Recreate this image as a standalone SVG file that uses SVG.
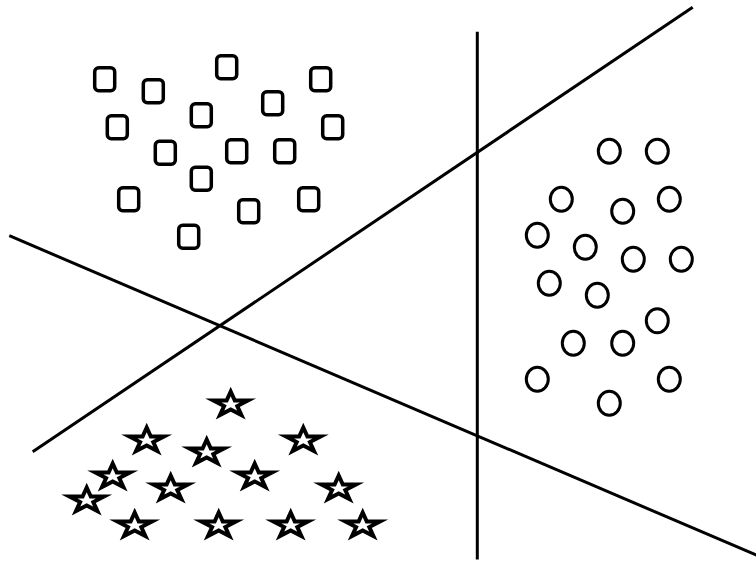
<svg xmlns="http://www.w3.org/2000/svg" width="756" height="561" viewBox="0 0 756 561">
<defs>
<style>
.sq{fill:#fff;stroke:#000;stroke-width:3.5}
.ci{fill:#fff;stroke:#000;stroke-width:3}
.st{fill:#fff;stroke:#000;stroke-width:4;stroke-miterlimit:10;stroke-linejoin:miter}
.ln{stroke:#000;stroke-width:3;fill:none}
</style>
<rect id="sqShape" class="sq" x="-10" y="-11.5" width="20" height="23" rx="4"/>
<ellipse id="ciShape" class="ci" cx="0" cy="0" rx="11" ry="12"/>
<path id="stShape" class="st" d="M0,-13 L4.1,-4.02 L17.3,-4.02 L6.6,1.54 L10.7,10.52 L0,4.97 L-10.7,10.52 L-6.6,1.54 L-17.3,-4.02 L-4.1,-4.02 Z"/>
</defs>
<rect width="756" height="561" fill="#fff"/>
<g id="connectors">
<line class="ln" x1="477.3" y1="31.7" x2="477.3" y2="559.5"/>
<line class="ln" x1="32.7" y1="451.7" x2="692.7" y2="7.3"/>
<line class="ln" x1="9.3" y1="235.7" x2="757" y2="555.4"/>
</g>
<g id="squares">
<g id="sq1"><use href="#sqShape" x="104.7" y="79.3"/></g>
<g id="sq2"><use href="#sqShape" x="153.3" y="91.3"/></g>
<g id="sq3"><use href="#sqShape" x="226.7" y="67.3"/></g>
<g id="sq4"><use href="#sqShape" x="320.7" y="79.3"/></g>
<g id="sq5"><use href="#sqShape" x="272.7" y="103.3"/></g>
<g id="sq6"><use href="#sqShape" x="201.3" y="115.3"/></g>
<g id="sq7"><use href="#sqShape" x="117.3" y="127.3"/></g>
<g id="sq8"><use href="#sqShape" x="332.7" y="127.3"/></g>
<g id="sq9"><use href="#sqShape" x="165.3" y="152.7"/></g>
<g id="sq10"><use href="#sqShape" x="236.7" y="151.3"/></g>
<g id="sq11"><use href="#sqShape" x="284.7" y="151.3"/></g>
<g id="sq12"><use href="#sqShape" x="201.3" y="178.7"/></g>
<g id="sq13"><use href="#sqShape" x="128.7" y="199.3"/></g>
<g id="sq14"><use href="#sqShape" x="248.7" y="211.3"/></g>
<g id="sq15"><use href="#sqShape" x="308.7" y="199.3"/></g>
<g id="sq16"><use href="#sqShape" x="188.7" y="236.7"/></g>
</g>
<g id="circles">
<g id="ci1"><use href="#ciShape" x="609.3" y="151.3"/></g>
<g id="ci2"><use href="#ciShape" x="657.3" y="151.3"/></g>
<g id="ci3"><use href="#ciShape" x="561.3" y="199.3"/></g>
<g id="ci4"><use href="#ciShape" x="669.3" y="199.3"/></g>
<g id="ci5"><use href="#ciShape" x="622.7" y="211.3"/></g>
<g id="ci6"><use href="#ciShape" x="537.3" y="235.3"/></g>
<g id="ci7"><use href="#ciShape" x="585.3" y="247.3"/></g>
<g id="ci8"><use href="#ciShape" x="633.3" y="259.3"/></g>
<g id="ci9"><use href="#ciShape" x="681.3" y="259.3"/></g>
<g id="ci10"><use href="#ciShape" x="549.3" y="283.3"/></g>
<g id="ci11"><use href="#ciShape" x="597.3" y="295.3"/></g>
<g id="ci12"><use href="#ciShape" x="657.3" y="320.7"/></g>
<g id="ci13"><use href="#ciShape" x="573.3" y="343.3"/></g>
<g id="ci14"><use href="#ciShape" x="622.7" y="343.3"/></g>
<g id="ci15"><use href="#ciShape" x="537.3" y="379.3"/></g>
<g id="ci16"><use href="#ciShape" x="669.3" y="379.3"/></g>
<g id="ci17"><use href="#ciShape" x="609.3" y="403.3"/></g>
</g>
<g id="stars">
<g id="st1"><use href="#stShape" x="230.7" y="404.5"/></g>
<g id="st2"><use href="#stShape" x="146.7" y="440.5"/></g>
<g id="st3"><use href="#stShape" x="303.3" y="440.5"/></g>
<g id="st4"><use href="#stShape" x="206.7" y="452.5"/></g>
<g id="st5"><use href="#stShape" x="112.7" y="476.5"/></g>
<g id="st6"><use href="#stShape" x="254.7" y="476.5"/></g>
<g id="st7"><use href="#stShape" x="170.7" y="488.5"/></g>
<g id="st8"><use href="#stShape" x="338.7" y="488.5"/></g>
<g id="st9"><use href="#stShape" x="86.7" y="500.5"/></g>
<g id="st10"><use href="#stShape" x="134.7" y="525.5"/></g>
<g id="st11"><use href="#stShape" x="218.7" y="525.5"/></g>
<g id="st12"><use href="#stShape" x="290.7" y="525.5"/></g>
<g id="st13"><use href="#stShape" x="362.7" y="525.5"/></g>
</g>
</svg>
